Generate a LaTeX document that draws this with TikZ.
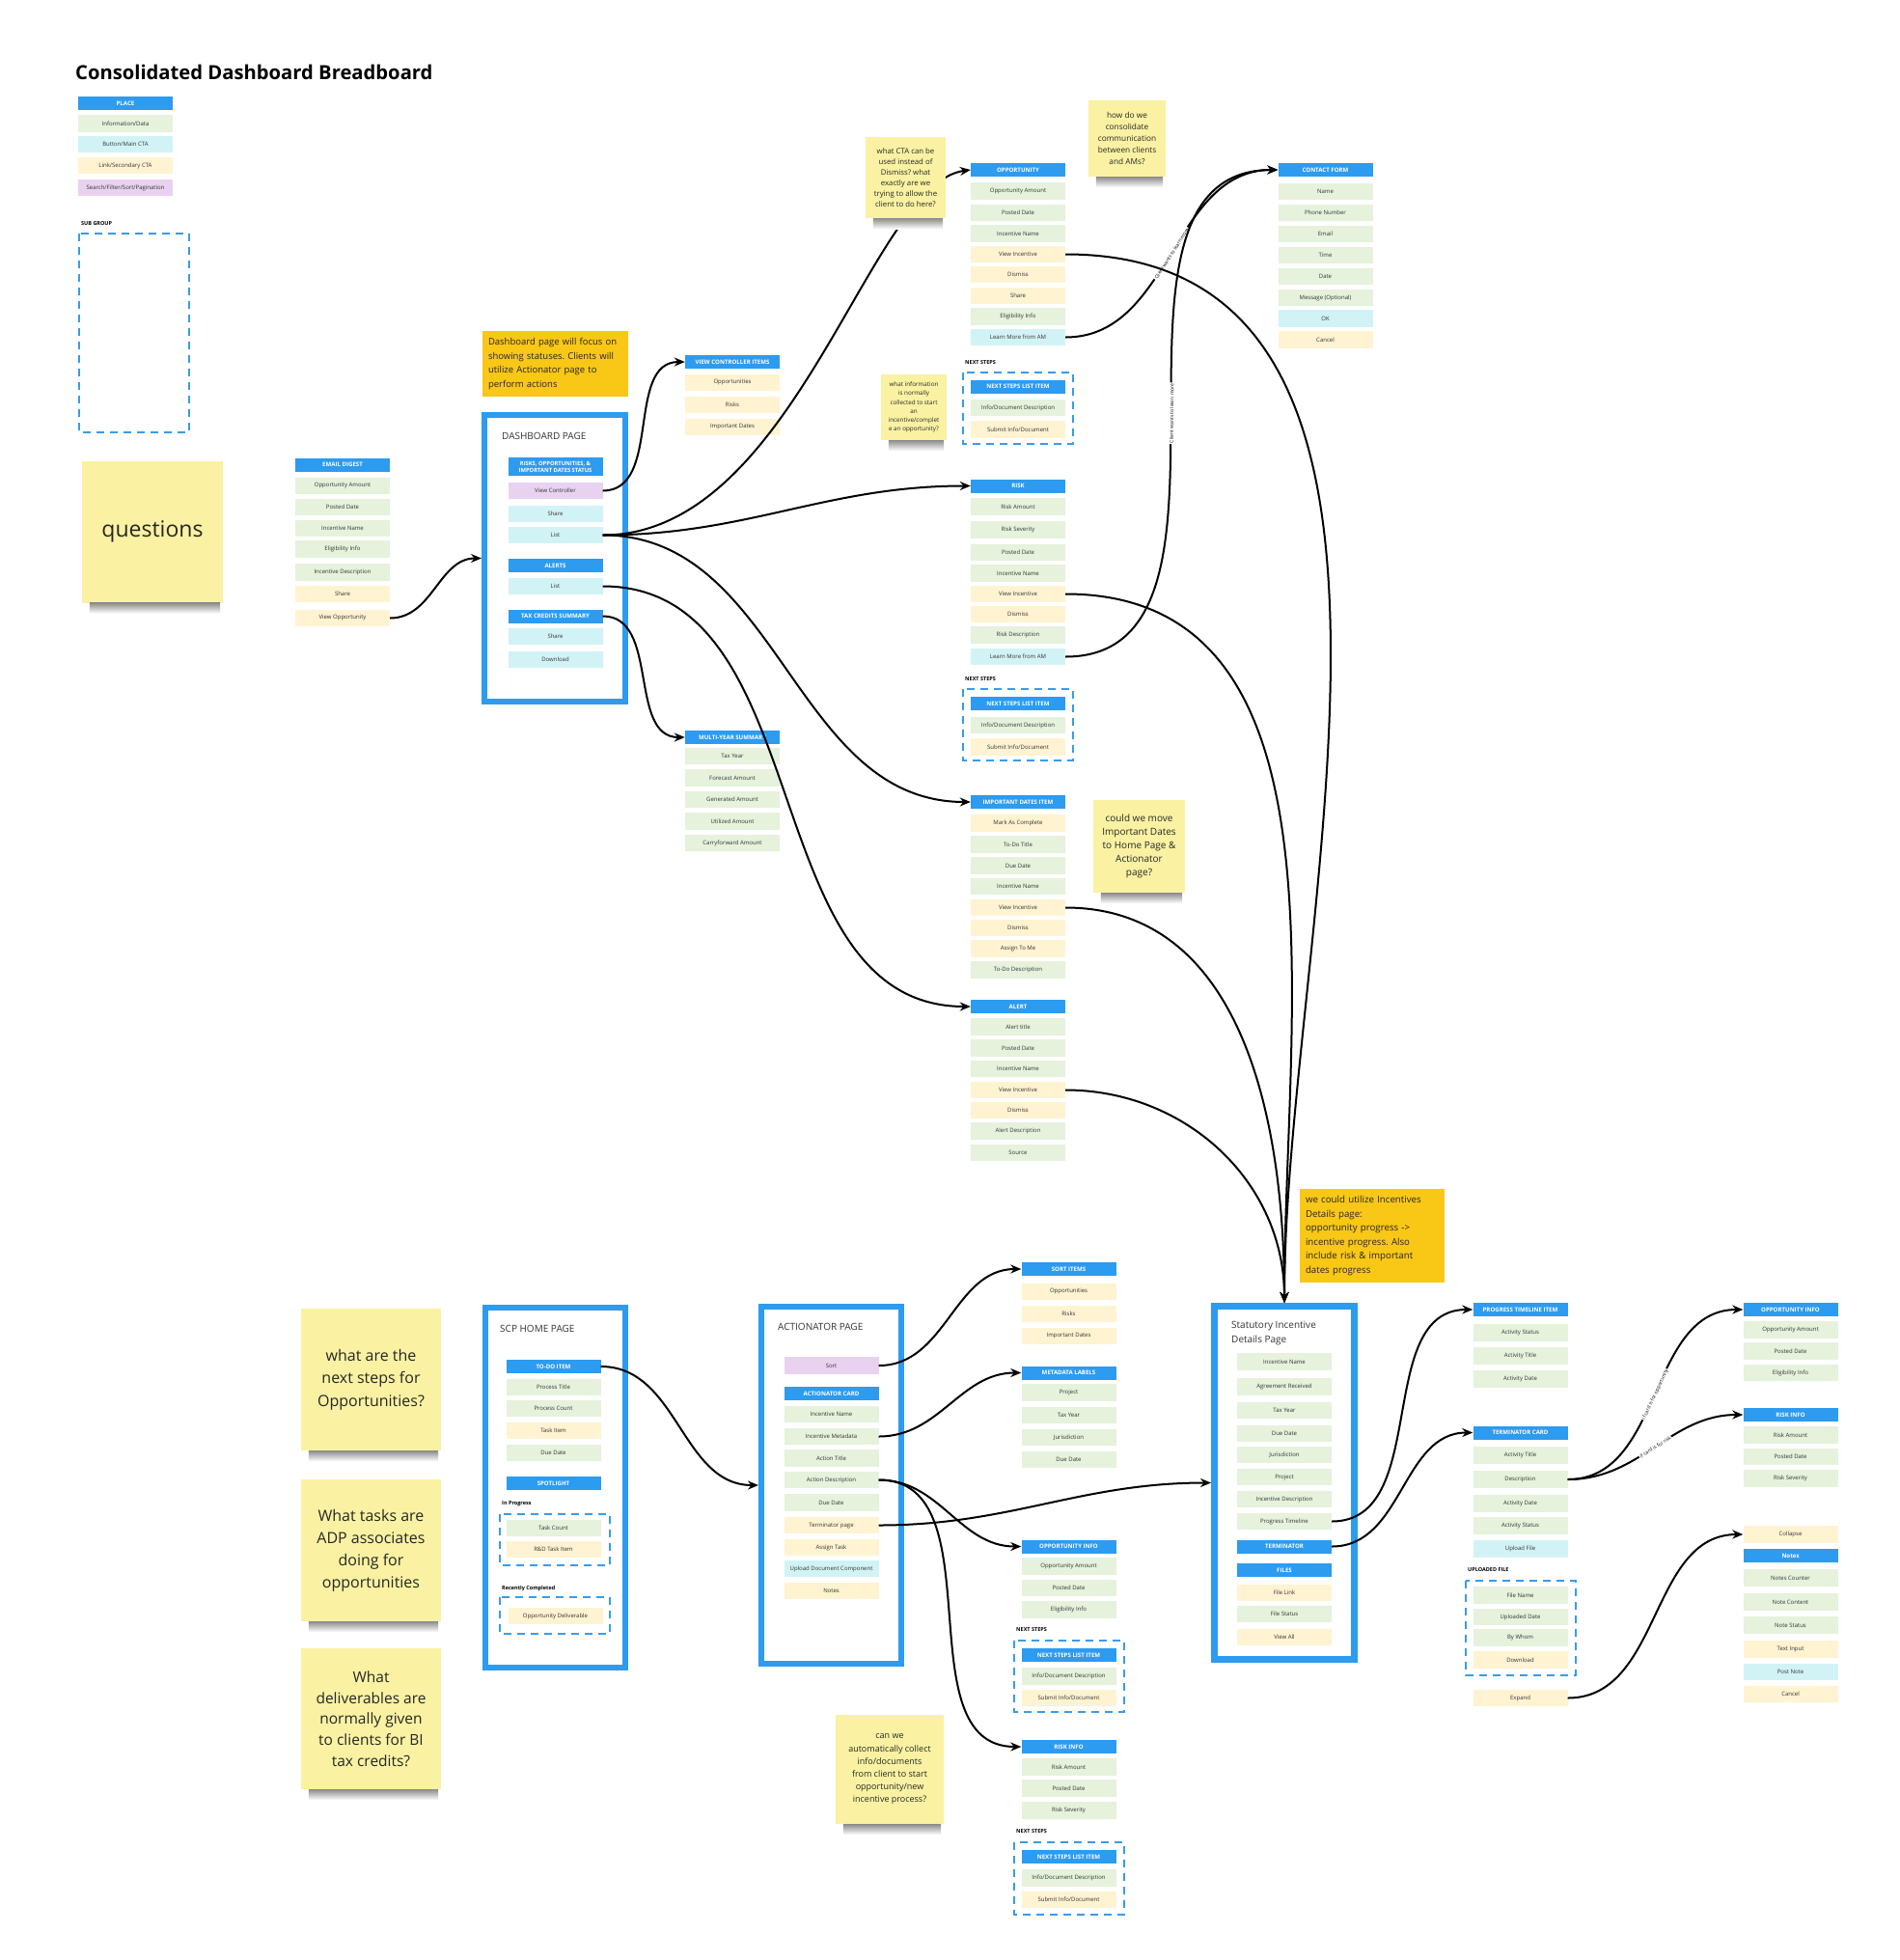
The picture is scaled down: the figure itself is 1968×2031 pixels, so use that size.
\documentclass[tikz,border=0pt]{standalone}
\usepackage{fontspec}
\setmainfont{Open Sans}
\definecolor{Hdrcol}{HTML}{2D9BF0}
\definecolor{Infocol}{HTML}{E6F2DC}
\definecolor{Ctacol}{HTML}{D2F3F5}
\definecolor{Linkcol}{HTML}{FFF3D2}
\definecolor{Sortcol}{HTML}{E9D2F0}
\definecolor{Stickycol}{HTML}{FAF2A2}
\definecolor{Memocol}{HTML}{F9C716}
\definecolor{Dashcol}{HTML}{3A9BEA}
\definecolor{Textcol}{HTML}{333333}
\usetikzlibrary{calc, arrows.meta, positioning}
\tikzset{
    >=Stealth,
    item/.style={minimum width=98pt, minimum height=17.5pt, inner sep=0pt, text=Textcol, font=\fontsize{6}{7}\selectfont},
    hdr/.style={item, fill=Hdrcol, text=white, minimum height=14pt, font=\fontsize{6.1}{7.2}\selectfont\bfseries},
    info/.style={item, fill=Infocol},
    cta/.style={item, fill=Ctacol},
    lnk/.style={item, fill=Linkcol},
    srch/.style={item, fill=Sortcol},
    pagebox/.style={draw=Hdrcol, line width=6pt, fill=white, inner sep=0pt},
    pagetitle/.style={anchor=west, inner sep=0pt, text=Textcol, font=\fontsize{10}{15}\selectfont, align=left},
    subgroup/.style={draw=Dashcol, line width=2pt, dash pattern=on 8pt off 6pt},
    grouplabel/.style={anchor=west, inner sep=0pt, font=\fontsize{5.5}{6.5}\selectfont\bfseries},
    sticky/.style={fill=Stickycol, inner sep=0pt, align=center, text=black!85},
    memo/.style={fill=Memocol, inner sep=6pt, align=left, text=black!85},
    wire/.style={-{Stealth[length=11pt, width=9pt]}, line width=2pt},
    wirelabel/.style={sloped, fill=white, inner sep=1pt, font=\fontsize{5}{6}\selectfont},
    shadowband/.style={top color=black!45, bottom color=white}
}

\begin{document}
\frenchspacing
\begin{tikzpicture}[x=1pt, y=-1pt]
    % Canvas
    \path[use as bounding box, fill=white] (0,0) rectangle (1968,2031);

    % Title and legend
    \node[anchor=west, inner sep=0pt, font=\fontsize{20.2}{24}\selectfont\bfseries] (title) at (78,75) {Consolidated Dashboard Breadboard};
    \node[hdr] (lgPlace) at (130,107) {PLACE};
    \node[info] (lgInfo) at (130,128) {Information/Data};
    \node[cta] (lgCta) at (130,149.5) {Button/Main CTA};
    \node[lnk] (lgLink) at (130,171.5) {Link/Secondary CTA};
    \node[srch] (lgSearch) at (130,194.5) {Search/Filter/Sort/Pagination};
    \node[grouplabel] (lgSub) at (84,232) {SUB GROUP};
    \draw[subgroup] (82,242) rectangle (196,448);

    % Page frames
    \node[pagebox, minimum width=146pt, minimum height=297pt] (dashpage) at (575,578.5) {};
    \node[pagebox, minimum width=145pt, minimum height=373pt] (scppage) at (575.5,1541.5) {};
    \node[pagebox, minimum width=145pt, minimum height=370pt] (actpage) at (861.5,1539) {};
    \node[pagebox, line width=7pt, minimum width=145pt, minimum height=366pt] (statpage) at (1331,1536.5) {};

    % Email digest
    \node[hdr] (email) at (355,481.5) {EMAIL DIGEST};
    \node[info] (emailAmt) at (355,503.5) {Opportunity Amount};
    \node[info] (emailDate) at (355,525.5) {Posted Date};
    \node[info] (emailName) at (355,547.5) {Incentive Name};
    \node[info] (emailElig) at (355,569) {Eligibility Info};
    \node[info] (emailDesc) at (355,593) {Incentive Description};
    \node[lnk] (emailShare) at (355,615.5) {Share};
    \node[lnk] (emailView) at (355,640.5) {View Opportunity};

    % Dashboard page
    \node[pagetitle] (dashTitle) at (520,452) {DASHBOARD PAGE};
    \node[hdr, minimum height=19pt, align=center, font=\fontsize{5.8}{7}\selectfont\bfseries] (dashHdr) at (575.5,483.5) {RISKS, OPPORTUNITIES, \&\\IMPORTANT DATES STATUS};
    \node[srch] (dashVC) at (575.5,508.5) {View Controller};
    \node[cta] (dashShare) at (575.5,532.5) {Share};
    \node[cta] (dashList) at (575.5,554.5) {List};
    \node[hdr] (alertsHdr) at (575.5,586) {ALERTS};
    \node[cta] (alertsList) at (575.5,607.5) {List};
    \node[hdr] (taxHdr) at (575.5,638.5) {TAX CREDITS SUMMARY};
    \node[cta] (taxShare) at (575.5,659.5) {Share};
    \node[cta] (taxDownload) at (575.5,683.5) {Download};

    % View controller items
    \node[hdr] (vciHdr) at (759,375) {VIEW CONTROLLER ITEMS};
    \node[lnk] (vciOpp) at (759,396.5) {Opportunities};
    \node[lnk] (vciRisk) at (759,419.5) {Risks};
    \node[lnk] (vciDates) at (759,442.5) {Important Dates};

    % Multi-year summary
    \node[hdr] (myHdr) at (759,764) {MULTI-YEAR SUMMARY};
    \node[info] (myYear) at (759,783.5) {Tax Year};
    \node[info] (myForecast) at (759,806) {Forecast Amount};
    \node[info] (myGenerated) at (759,828.5) {Generated Amount};
    \node[info] (myUtilized) at (759,851) {Utilized Amount};
    \node[info] (myCarry) at (759,873.5) {Carryforward Amount};

    % Opportunity
    \node[hdr] (oppHdr) at (1055,176) {OPPORTUNITY};
    \node[info] (oppAmt) at (1055,198) {Opportunity Amount};
    \node[info] (oppDate) at (1055,220.5) {Posted Date};
    \node[info] (oppName) at (1055,242) {Incentive Name};
    \node[lnk] (oppView) at (1055,263.5) {View Incentive};
    \node[lnk] (oppDismiss) at (1055,284.5) {Dismiss};
    \node[lnk] (oppShare) at (1055,306.5) {Share};
    \node[info] (oppElig) at (1055,328) {Eligibility Info};
    \node[cta] (oppLearn) at (1055,349.5) {Learn More from AM};

    \node[grouplabel] (oppNext) at (1000,376) {NEXT STEPS};
    \draw[subgroup] (998,386) rectangle (1112,460);
    \node[hdr] (oppStep) at (1055,400.5) {NEXT STEPS LIST ITEM};
    \node[info] (oppStepDesc) at (1055,422.5) {Info/Document Description};
    \node[lnk] (oppStepSubmit) at (1055,445) {Submit Info/Document};

    % Contact form
    \node[hdr] (contactHdr) at (1373.5,176) {CONTACT FORM};
    \node[info] (contactName) at (1373.5,198.5) {Name};
    \node[info] (contactPhone) at (1373.5,220.5) {Phone Number};
    \node[info] (contactEmail) at (1373.5,242.5) {Email};
    \node[info] (contactTime) at (1373.5,264.5) {Time};
    \node[info] (contactDate) at (1373.5,286.5) {Date};
    \node[info] (contactMsg) at (1373.5,308.5) {Message (Optional)};
    \node[cta] (contactOk) at (1373.5,330) {OK};
    \node[lnk] (contactCancel) at (1373.5,352) {Cancel};

    % Risk
    \node[hdr] (riskHdr) at (1055,503.5) {RISK};
    \node[info] (riskAmt) at (1055,525) {Risk Amount};
    \node[info] (riskSev) at (1055,549) {Risk Severity};
    \node[info] (riskDate) at (1055,572.5) {Posted Date};
    \node[info] (riskName) at (1055,594) {Incentive Name};
    \node[lnk] (riskView) at (1055,615.5) {View Incentive};
    \node[lnk] (riskDismiss) at (1055,636.5) {Dismiss};
    \node[info] (riskDesc) at (1055,658) {Risk Description};
    \node[cta] (riskLearn) at (1055,680.5) {Learn More from AM};

    \node[grouplabel] (riskNext) at (1000,704) {NEXT STEPS};
    \draw[subgroup] (998,714) rectangle (1112,788);
    \node[hdr] (riskStep) at (1055,729) {NEXT STEPS LIST ITEM};
    \node[info] (riskStepDesc) at (1055,751.5) {Info/Document Description};
    \node[lnk] (riskStepSubmit) at (1055,774) {Submit Info/Document};

    % Important dates item
    \node[hdr] (datesHdr) at (1055,831) {IMPORTANT DATES ITEM};
    \node[lnk] (datesMark) at (1055,853) {Mark As Complete};
    \node[info] (datesTitle) at (1055,875) {To-Do Title};
    \node[info] (datesDue) at (1055,897) {Due Date};
    \node[info] (datesName) at (1055,918.5) {Incentive Name};
    \node[lnk] (datesView) at (1055,940.5) {View Incentive};
    \node[lnk] (datesDismiss) at (1055,961.5) {Dismiss};
    \node[lnk] (datesAssign) at (1055,983) {Assign To Me};
    \node[info] (datesDesc) at (1055,1005) {To-Do Description};

    % Alert
    \node[hdr] (alertHdr) at (1055,1043) {ALERT};
    \node[info] (alertTitle) at (1055,1064) {Alert title};
    \node[info] (alertDate) at (1055,1086) {Posted Date};
    \node[info] (alertName) at (1055,1107.5) {Incentive Name};
    \node[lnk] (alertView) at (1055,1129.5) {View Incentive};
    \node[lnk] (alertDismiss) at (1055,1150.5) {Dismiss};
    \node[info] (alertDesc) at (1055,1172) {Alert Description};
    \node[info] (alertSource) at (1055,1194.5) {Source};

    % SCP home page
    \node[pagetitle] (scpTitle) at (518,1377) {SCP HOME PAGE};
    \node[hdr] (todoHdr) at (573.5,1416) {TO-DO ITEM};
    \node[info] (todoTitle) at (573.5,1437.5) {Process Title};
    \node[info] (todoCount) at (573.5,1459.5) {Process Count};
    \node[lnk] (todoTask) at (573.5,1482.5) {Task Item};
    \node[info] (todoDue) at (573.5,1505.5) {Due Date};
    \node[hdr] (spotHdr) at (573.5,1537) {SPOTLIGHT};
    \node[grouplabel] (spotProgress) at (520,1558) {In Progress};
    \draw[subgroup] (518,1569) rectangle (632,1622);
    \node[info] (spotCount) at (573.5,1583.5) {Task Count};
    \node[lnk] (spotTask) at (573.5,1605.5) {R\&D Task Item};
    \node[grouplabel] (spotDone) at (520,1646) {Recently Completed};
    \draw[subgroup] (518,1655) rectangle (632,1693);
    \node[lnk] (spotDeliverable) at (575.5,1674.5) {Opportunity Deliverable};

    % Actionator page
    \node[pagetitle] (actTitle) at (806,1375) {ACTIONATOR PAGE};
    \node[srch] (sortBtn) at (861.5,1415) {Sort};
    \node[hdr] (cardHdr) at (861.5,1444) {ACTIONATOR CARD};
    \node[info] (cardName) at (861.5,1465.5) {Incentive Name};
    \node[info] (cardMeta) at (861.5,1488.5) {Incentive Metadata};
    \node[info] (cardTitle) at (861.5,1511) {Action Title};
    \node[info] (cardDesc) at (861.5,1533.5) {Action Description};
    \node[info] (cardDue) at (861.5,1557) {Due Date};
    \node[lnk] (cardTerm) at (861.5,1580.5) {Terminator page};
    \node[lnk] (cardAssign) at (861.5,1603.5) {Assign Task};
    \node[cta] (cardUpload) at (861.5,1625.5) {Upload Document Component};
    \node[lnk] (cardNotes) at (861.5,1648.5) {Notes};

    % Sort items and metadata labels
    \node[hdr] (sortHdr) at (1107.5,1315) {SORT ITEMS};
    \node[lnk] (sortOpp) at (1107.5,1338.5) {Opportunities};
    \node[lnk] (sortRisk) at (1107.5,1361.5) {Risks};
    \node[lnk] (sortDates) at (1107.5,1384.5) {Important Dates};
    \node[hdr] (metaHdr) at (1107.5,1422.5) {METADATA LABELS};
    \node[info] (metaProject) at (1107.5,1443) {Project};
    \node[info] (metaYear) at (1107.5,1466.5) {Tax Year};
    \node[info] (metaJuris) at (1107.5,1489.5) {Jurisdiction};
    \node[info] (metaDue) at (1107.5,1512.5) {Due Date};

    % Opportunity info and risk info (actionator)
    \node[hdr] (oinfoHdr) at (1107.5,1602.5) {OPPORTUNITY INFO};
    \node[info] (oinfoAmt) at (1107.5,1623) {Opportunity Amount};
    \node[info] (oinfoDate) at (1107.5,1645.5) {Posted Date};
    \node[info] (oinfoElig) at (1107.5,1668) {Eligibility Info};
    \node[grouplabel] (oinfoNext) at (1053,1689) {NEXT STEPS};
    \draw[subgroup] (1051,1700) rectangle (1165,1774);
    \node[hdr] (oinfoStep) at (1107.5,1715) {NEXT STEPS LIST ITEM};
    \node[info] (oinfoStepDesc) at (1107.5,1737) {Info/Document Description};
    \node[lnk] (oinfoStepSubmit) at (1107.5,1759.5) {Submit Info/Document};

    \node[hdr] (rinfoHdr) at (1107.5,1810) {RISK INFO};
    \node[info] (rinfoAmt) at (1107.5,1831) {Risk Amount};
    \node[info] (rinfoDate) at (1107.5,1853) {Posted Date};
    \node[info] (rinfoSev) at (1107.5,1876) {Risk Severity};
    \node[grouplabel] (rinfoNext) at (1053,1898) {NEXT STEPS};
    \draw[subgroup] (1051,1909) rectangle (1165,1984);
    \node[hdr] (rinfoStep) at (1107.5,1924) {NEXT STEPS LIST ITEM};
    \node[info] (rinfoStepDesc) at (1107.5,1946) {Info/Document Description};
    \node[lnk] (rinfoStepSubmit) at (1107.5,1968.5) {Submit Info/Document};

    % Statutory incentive details page
    \node[pagetitle] (statTitle) at (1276,1381.5) {Statutory Incentive\\Details Page};
    \node[info] (statName) at (1331,1411) {Incentive Name};
    \node[info] (statAgree) at (1331,1437) {Agreement Received};
    \node[info] (statYear) at (1331,1461.5) {Tax Year};
    \node[info] (statDue) at (1331,1485.5) {Due Date};
    \node[info] (statJuris) at (1331,1507.5) {Jurisdiction};
    \node[info] (statProject) at (1331,1530.5) {Project};
    \node[info] (statDesc) at (1331,1553.5) {Incentive Description};
    \node[info] (statProgress) at (1331,1576.5) {Progress Timeline};
    \node[hdr] (statTerm) at (1331,1602.5) {TERMINATOR};
    \node[hdr] (statFiles) at (1331,1627) {FILES};
    \node[lnk] (statLink) at (1331,1650.5) {File Link};
    \node[info] (statStatus) at (1331,1672.5) {File Status};
    \node[lnk] (statAll) at (1331,1696.5) {View All};

    % Progress timeline and terminator card
    \node[hdr] (ptiHdr) at (1575.5,1357) {PROGRESS TIMELINE ITEM};
    \node[info] (ptiStatus) at (1575.5,1381) {Activity Status};
    \node[info] (ptiTitle) at (1575.5,1405) {Activity Title};
    \node[info] (ptiDate) at (1575.5,1429) {Activity Date};
    \node[hdr] (tcHdr) at (1575.5,1484.5) {TERMINATOR CARD};
    \node[info] (tcTitle) at (1575.5,1508) {Activity Title};
    \node[info] (tcDesc) at (1575.5,1533) {Description};
    \node[info] (tcDate) at (1575.5,1558) {Activity Date};
    \node[info] (tcStatus) at (1575.5,1581) {Activity Status};
    \node[cta] (tcUpload) at (1575.5,1605) {Upload File};
    \node[grouplabel] (fileLabel) at (1521,1627) {UPLOADED FILE};
    \draw[subgroup] (1519,1638) rectangle (1633,1736);
    \node[info] (fileName) at (1575.5,1653) {File Name};
    \node[info] (fileDate) at (1575.5,1675.5) {Uploaded Date};
    \node[info] (fileWho) at (1575.5,1697) {By Whom};
    \node[lnk] (fileDownload) at (1575.5,1720) {Download};
    \node[lnk] (expandBtn) at (1575.5,1759.5) {Expand};

    % Right column
    \node[hdr] (oinfo2Hdr) at (1855.5,1357) {OPPORTUNITY INFO};
    \node[info] (oinfo2Amt) at (1855.5,1378) {Opportunity Amount};
    \node[info] (oinfo2Date) at (1855.5,1400) {Posted Date};
    \node[info] (oinfo2Elig) at (1855.5,1422.5) {Eligibility Info};
    \node[hdr] (rinfo2Hdr) at (1855.5,1466) {RISK INFO};
    \node[info] (rinfo2Amt) at (1855.5,1487) {Risk Amount};
    \node[info] (rinfo2Date) at (1855.5,1509.5) {Posted Date};
    \node[info] (rinfo2Sev) at (1855.5,1532) {Risk Severity};
    \node[lnk] (collapseBtn) at (1855.5,1590) {Collapse};
    \node[hdr] (notesHdr) at (1855.5,1612) {Notes};
    \node[info] (notesCounter) at (1855.5,1635) {Notes Counter};
    \node[info] (notesContent) at (1855.5,1660) {Note Content};
    \node[info] (notesStatus) at (1855.5,1684) {Note Status};
    \node[lnk] (notesInput) at (1855.5,1709) {Text Input};
    \node[cta] (notesPost) at (1855.5,1732.5) {Post Note};
    \node[lnk] (notesCancel) at (1855.5,1755.5) {Cancel};

    % Connectors
    \draw[wire] (emailView.east) to[out=0,in=180] (dashpage.west);
    \draw[wire] (dashVC.east) to[out=0,in=180] (vciHdr.west);
    \draw[wire] (taxHdr.east) to[out=0,in=180] (myHdr.west);
    \draw[wire] (dashList.east) .. controls +(200,0) and +(-105,14) .. (oppHdr.west);
    \draw[wire] (dashList.east) to[out=0,in=180] (riskHdr.west);
    \draw[wire] (dashList.east) to[out=0,in=180] (datesHdr.west);
    \draw[wire] (alertsList.east) to[out=0,in=180] (alertHdr.west);
    \draw[wire] (oppLearn.east) to[out=0,in=180] node[wirelabel] {Client wants to learn more} (contactHdr.west);
    \draw[wire] (riskLearn.east) to[out=0,in=180] node[wirelabel] {Client wants to learn more} (contactHdr.west);
    \draw[wire] (oppView.east) .. controls +(430,0) and +(0,-390) .. (statpage.north);
    \draw[wire] (riskView.east) .. controls +(300,0) and +(0,-300) .. (statpage.north);
    \draw[wire] (datesView.east) .. controls +(185,0) and +(0,-185) .. (statpage.north);
    \draw[wire] (alertView.east) .. controls +(125,0) and +(0,-125) .. (statpage.north);
    \draw[wire] (todoHdr.east) to[out=0,in=180] (actpage.west);
    \draw[wire] (sortBtn.east) to[out=0,in=180] (sortHdr.west);
    \draw[wire] (cardMeta.east) to[out=0,in=180] (metaHdr.west);
    \draw[wire] (cardDesc.east) to[out=0,in=180] (oinfoHdr.west);
    \draw[wire] (cardDesc.east) to[out=0,in=180] (rinfoHdr.west);
    \draw[wire] (cardTerm.east) to[out=0,in=180] (statpage.west);
    \draw[wire] (statProgress.east) to[out=0,in=180] (ptiHdr.west);
    \draw[wire] (statTerm.east) to[out=0,in=180] (tcHdr.west);
    \draw[wire] (tcDesc.east) to[out=0,in=180] node[wirelabel] {if card is for opportunity} (oinfo2Hdr.west);
    \draw[wire] (tcDesc.east) to[out=0,in=180] node[wirelabel] {if card is for risk} (rinfo2Hdr.west);
    \draw[wire] (expandBtn.east) to[out=0,in=180] (collapseBtn.west);

    % Notes
    \node[memo, text width=139pt, minimum height=68pt, font=\fontsize{9.5}{14.4}\selectfont] (dashMemo) at (575.5,377) {Dashboard page will focus on\\showing statuses. Clients will\\utilize Actionator page to\\perform actions};
    \node[memo, text width=138pt, minimum height=97pt, font=\fontsize{9.7}{14.5}\selectfont] (statMemo) at (1422,1280.5) {we could utilize Incentives\\Details page:\\opportunity progress ->\\incentive progress. Also\\include risk \& important\\dates progress};

    \node[sticky, minimum width=146pt, minimum height=147pt, font=\fontsize{23}{28}\selectfont] (questions) at (158,551) {questions};
    \node[sticky, minimum width=83pt, minimum height=84pt, font=\fontsize{7.8}{11}\selectfont] (ctaNote) at (938.5,184) {what CTA can be\\used instead of\\Dismiss? what\\exactly are we\\trying to allow the\\client to do here?};
    \node[sticky, minimum width=80pt, minimum height=79pt, font=\fontsize{8.3}{11.8}\selectfont] (commNote) at (1168,143.5) {how do we\\consolidate\\communication\\between clients\\and AMs?};
    \node[sticky, minimum width=68pt, minimum height=68pt, font=\fontsize{6.3}{9.2}\selectfont] (infoNote) at (947,422) {what information\\is normally\\collected to start\\an\\incentive/complet\\e an opportunity?};
    \node[sticky, minimum width=95pt, minimum height=96pt, font=\fontsize{10}{14}\selectfont] (datesNote) at (1180.5,877) {could we move\\Important Dates\\to Home Page \&\\Actionator\\page?};
    \node[sticky, minimum width=112pt, minimum height=113pt, font=\fontsize{9}{13.2}\selectfont] (collectNote) at (922,1833.5) {can we\\automatically collect\\info/documents\\from client to start\\opportunity/new\\incentive process?};
    \node[sticky, minimum width=145pt, minimum height=147pt, font=\fontsize{16}{23.5}\selectfont] (stepsNote) at (384.5,1429.5) {what are the\\next steps for\\Opportunities?};
    \node[sticky, minimum width=145pt, minimum height=147pt, font=\fontsize{16}{23}\selectfont] (tasksNote) at (384.5,1606.5) {What tasks are\\ADP associates\\doing for\\opportunities};
    \node[sticky, minimum width=145pt, minimum height=146pt, font=\fontsize{15.5}{21.6}\selectfont] (delivNote) at (384.5,1781) {What\\deliverables are\\normally given\\to clients for BI\\tax credits?};

    % Sticky shadows
    \foreach \n in {questions, ctaNote, commNote, infoNote, datesNote, collectNote, stepsNote, tasksNote, delivNote}
        \shade[shadowband] ($(\n.south west)+(8,0)$) rectangle ($(\n.south east)+(-3,11)$);
\end{tikzpicture}
\end{document}
